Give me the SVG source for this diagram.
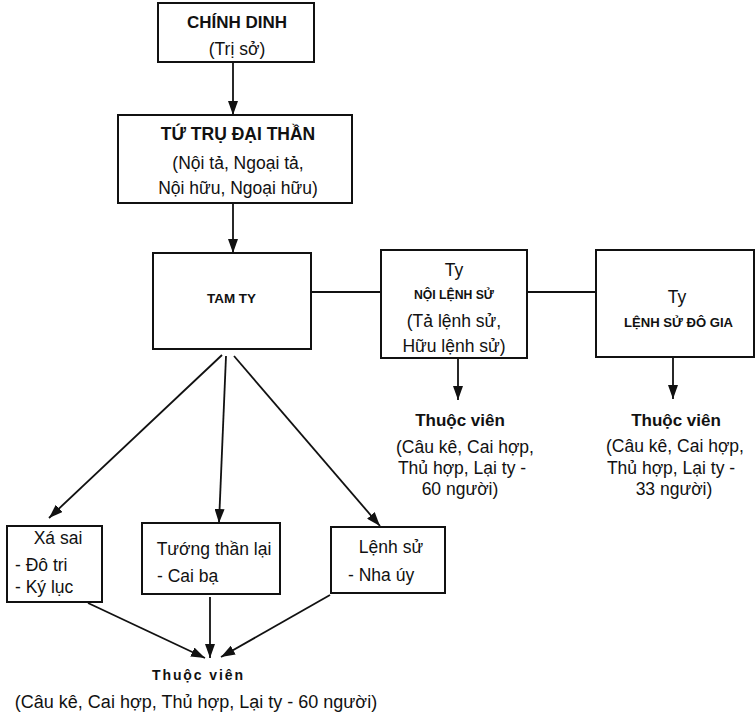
<svg xmlns="http://www.w3.org/2000/svg" width="755" height="715" viewBox="0 0 755 715">
<style>
.box{fill:#fff;stroke:#111;stroke-width:2}
.ln{fill:none;stroke:#111;stroke-width:1.8}
text{font-family:"Liberation Sans",Arial,sans-serif;fill:#111}
.t{font-size:17.5px}
.b17{font-size:17px;font-weight:bold}
.b12{font-size:12.5px;font-weight:bold}
.c{text-anchor:middle}
</style>
<defs>
<marker id="ah" viewBox="0 0 14 10" markerWidth="14" markerHeight="10" refX="14" refY="5" orient="auto" markerUnits="userSpaceOnUse">
<path d="M0,0 L14,5 L0,10 z" fill="#111"/>
</marker>
</defs>
<rect width="755" height="715" fill="#fff"/>
<g id="connectors">
<line class="ln" x1="233" y1="62" x2="233" y2="115" marker-end="url(#ah)"/>
<line class="ln" x1="233" y1="203" x2="233" y2="253" marker-end="url(#ah)"/>
<line class="ln" x1="311" y1="292" x2="381" y2="292"/>
<line class="ln" x1="527" y1="292" x2="596" y2="292"/>
<line class="ln" x1="458" y1="358" x2="458" y2="400" marker-end="url(#ah)"/>
<line class="ln" x1="673" y1="357" x2="673" y2="399" marker-end="url(#ah)"/>
<line class="ln" x1="222" y1="355" x2="49" y2="518" marker-end="url(#ah)"/>
<line class="ln" x1="226" y1="356" x2="219" y2="523" marker-end="url(#ah)"/>
<line class="ln" x1="234" y1="356" x2="380" y2="526" marker-end="url(#ah)"/>
<line class="ln" x1="88" y1="603" x2="205" y2="658" marker-end="url(#ah)"/>
<line class="ln" x1="210" y1="597" x2="210" y2="658" marker-end="url(#ah)"/>
<line class="ln" x1="330" y1="595" x2="221" y2="657" marker-end="url(#ah)"/>
</g>
<g id="chinh-dinh">
<rect class="box" x="158" y="3" width="156" height="59"/>
<text class="b17 c" x="237" y="28">CHÍNH DINH</text>
<text class="t c" x="237" y="55">(Trị sở)</text>
</g>
<g id="tu-tru">
<rect class="box" x="118" y="115" width="234" height="88"/>
<text class="b17 c" x="238" y="140" style="font-size:17.5px">TỨ TRỤ ĐẠI THẦN</text>
<text class="t c" x="238" y="169">(Nội tả, Ngoại tả,</text>
<text class="t c" x="238" y="194">Nội hữu, Ngoại hữu)</text>
</g>
<g id="tam-ty">
<rect class="box" x="153" y="253" width="158" height="96"/>
<text class="b12" x="207" y="303" textLength="49" lengthAdjust="spacingAndGlyphs">TAM TY</text>
</g>
<g id="noi-lenh-su">
<rect class="box" x="381" y="250" width="146" height="108"/>
<text class="t c" x="454" y="276">Ty</text>
<text class="b12" x="414" y="299" textLength="80" lengthAdjust="spacingAndGlyphs">NỘI LỆNH SỬ</text>
<text class="t c" x="454" y="327">(Tả lệnh sử,</text>
<text class="t c" x="454" y="352">Hữu lệnh sử)</text>
</g>
<g id="lenh-su-do-gia">
<rect class="box" x="596" y="250" width="158" height="107"/>
<text class="t c" x="677" y="303">Ty</text>
<text class="b12" x="624" y="327" textLength="109" lengthAdjust="spacingAndGlyphs">LỆNH SỬ ĐÔ GIA</text>
</g>
<g id="thuoc-vien-1">
<text class="b17 c" x="460" y="426">Thuộc viên</text>
<text class="t c" x="465" y="453">(Câu kê, Cai hợp,</text>
<text class="t c" x="462" y="474">Thủ hợp, Lại ty -</text>
<text class="t c" x="460" y="495">60 người)</text>
</g>
<g id="thuoc-vien-2">
<text class="b17 c" x="676" y="426">Thuộc viên</text>
<text class="t c" x="675" y="452">(Câu kê, Cai hợp,</text>
<text class="t c" x="671" y="474">Thủ hợp, Lại ty -</text>
<text class="t c" x="674" y="495">33 người)</text>
</g>
<g id="xa-sai">
<rect class="box" x="7" y="526" width="95" height="76"/>
<text class="t c" x="58" y="544">Xá sai</text>
<text class="t" x="15" y="571">- Đô tri</text>
<text class="t" x="15" y="593">- Ký lục</text>
</g>
<g id="tuong-than-lai">
<rect class="box" x="142" y="523" width="138" height="71"/>
<text class="t c" x="214" y="555">Tướng thần lại</text>
<text class="t" x="157" y="582">- Cai bạ</text>
</g>
<g id="lenh-su">
<rect class="box" x="331" y="527" width="114" height="66"/>
<text class="t c" x="391" y="553">Lệnh sử</text>
<text class="t" x="348" y="581">- Nha úy</text>
</g>
<g id="thuoc-vien-3">
<text class="b12" x="152" y="680" style="font-size:14px" textLength="91" lengthAdjust="spacing">Thuộc viên</text>
<text class="t c" x="196" y="708" style="font-size:18px">(Câu kê, Cai hợp, Thủ hợp, Lại ty - 60 người)</text>
</g>
</svg>
